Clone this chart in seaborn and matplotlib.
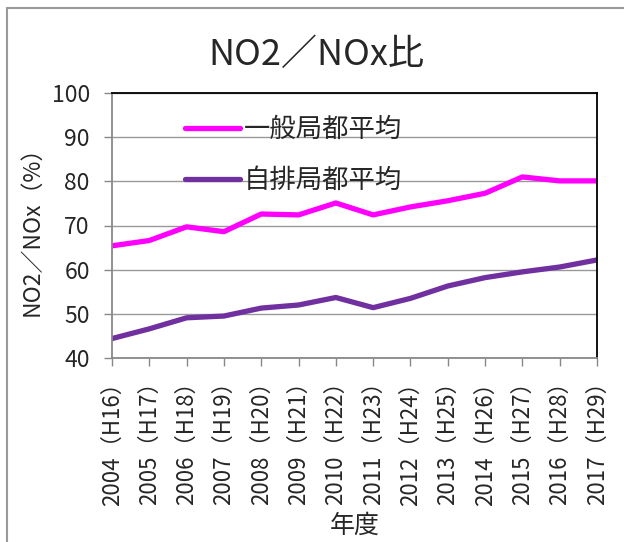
import matplotlib
matplotlib.use("Agg")
import matplotlib.pyplot as plt
import seaborn as sns
import pandas as pd
from matplotlib.lines import Line2D

years = ["2004", "2005", "2006", "2007", "2008", "2009", "2010",
         "2011", "2012", "2013", "2014", "2015", "2016", "2017"]
heisei = ["H16", "H17", "H18", "H19", "H20", "H21", "H22",
          "H23", "H24", "H25", "H26", "H27", "H28", "H29"]
ippan = [65.4, 66.6, 69.7, 68.6, 72.6, 72.4, 75.1,
         72.4, 74.2, 75.6, 77.3, 81.0, 80.1, 80.1]
jihai = [44.4, 46.6, 49.1, 49.5, 51.3, 52.0, 53.7,
         51.4, 53.5, 56.3, 58.2, 59.5, 60.6, 62.2]
series_names = ["一般局都平均", "自排局都平均"]
colors = ["#FF00FF", "#7030A0"]

sns.set_theme(style="white")
plt.rcParams['font.family'] = ['Noto Sans CJK JP', 'DejaVu Sans']

labels = [f"{y}（{h}）" for y, h in zip(years, heisei)]
df = pd.DataFrame({
    "x": list(range(len(years))) * 2,
    "value": ippan + jihai,
    "series": [series_names[0]] * len(years) + [series_names[1]] * len(years),
})

fig = plt.figure(figsize=(6.24, 5.42), dpi=100)
ax = fig.add_axes([112/624, 1 - 358/542, (597-112)/624, (358-93)/542])

sns.lineplot(data=df, x="x", y="value", hue="series", palette=colors,
             linewidth=3.8, ax=ax, legend=False, sort=False)

ax.set_xlim(0, len(years) - 1)
ax.set_ylim(40, 100)
ax.set_yticks(range(40, 101, 10))
ax.set_xticks(range(len(years)))
ax.set_xticklabels(labels, rotation=90, fontsize=16)
ax.tick_params(axis='y', labelsize=16.5, length=6, width=1, color='#888888',
               direction='out', left=True, pad=10)
ax.tick_params(axis='x', length=6, width=1, color='#888888',
               direction='out', bottom=True, pad=3)
ax.grid(axis='y', color='#999999', linewidth=1)
ax.set_axisbelow(True)
for s in ["left", "bottom"]:
    ax.spines[s].set_color('#888888')
    ax.spines[s].set_linewidth(1.3)
for s in ["top", "right"]:
    ax.spines[s].set_color('#000000')
    ax.spines[s].set_linewidth(1.3)

ax.set_xlabel("年度", fontsize=18, labelpad=5)
ax.set_ylabel("NO2／NOx（%）", fontsize=16.5, labelpad=6)
fig.text(0.507, 1 - 55/542, "NO2／NOx比", ha='center', va='center', fontsize=26)

handles = [Line2D([0], [0], color=c, linewidth=3.8) for c in colors]
leg = ax.legend(handles, series_names, loc='upper left',
                bbox_to_anchor=(0.15, 0.912), frameon=False, fontsize=19,
                handlelength=2.1, handletextpad=0.15, labelspacing=0.9,
                borderpad=0, borderaxespad=0)

# outer chart-area border (top & left visible)
fig.add_artist(Line2D([7/624, 1], [1 - 8/542, 1 - 8/542], color='#999999',
                      linewidth=1.5, transform=fig.transFigure))
fig.add_artist(Line2D([7/624, 7/624], [0, 1 - 8/542], color='#999999',
                      linewidth=1.5, transform=fig.transFigure))

fig.savefig("out.png", dpi=100)
